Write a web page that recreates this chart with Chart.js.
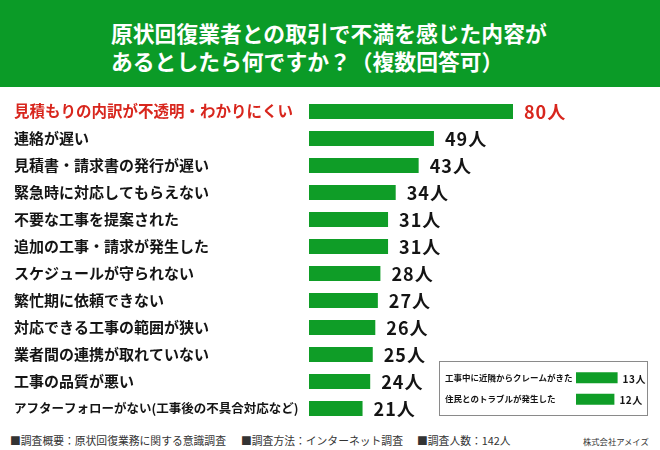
<!DOCTYPE html>
<html lang="ja">
<head>
    <meta charset="UTF-8">
    <title>原状回復業者との取引で不満を感じた内容</title>
    <script src="https://cdn.jsdelivr.net/npm/chart.js"></script>
    <style>
        html, body {
            margin: 0;
            padding: 0;
            width: 660px;
            height: 450px;
            background: #fff;
            overflow: hidden;
            font-family: 'Noto Sans CJK JP', sans-serif;
        }
        #header {
            position: absolute;
            left: 0; top: 0;
            width: 660px; height: 87px;
            background: #0b9b27;
        }
        #title {
            position: absolute;
            left: 111px; top: 19px;
            color: #fff;
            font-size: 21.8px;
            font-weight: bold;
            line-height: 28px;
            white-space: nowrap;
        }
        #mainBox {
            position: absolute;
            left: 0; top: 98px;
            width: 660px; height: 324px;
        }
        #otherFrame {
            position: absolute;
            left: 439px; top: 361px;
            width: 209px; height: 55px;
            box-sizing: border-box;
            border: 1px solid #8a8a8a;
            background: #fff;
        }
        #otherBox {
            position: absolute;
            left: 440px; top: 367px;
            width: 207px; height: 43px;
        }
        .note {
            position: absolute;
            top: 433px;
            font-size: 10.8px;
            line-height: 14px;
            color: #333;
            white-space: nowrap;
        }
        #company {
            font-size: 8.3px;
            top: 434px;
        }
    </style>
</head>
<body>
    <div id="header"></div>
    <div id="title">原状回復業者との取引で不満を感じた内容が<br>あるとしたら何ですか？（複数回答可）</div>

    <div id="mainBox"><canvas id="mainChart"></canvas></div>
    <div id="otherFrame"></div>
    <div id="otherBox"><canvas id="otherChart"></canvas></div>

    <span class="note" style="left:10px">■調査概要：原状回復業務に関する意識調査</span>
    <span class="note" style="left:241px">■調査方法：インターネット調査</span>
    <span class="note" style="left:417px">■調査人数：142人</span>
    <span class="note" id="company" style="left:583px">株式会社アメイズ</span>

    <script>
        // data
        const categories = [
            '見積もりの内訳が不透明・わかりにくい',
            '連絡が遅い',
            '見積書・請求書の発行が遅い',
            '緊急時に対応してもらえない',
            '不要な工事を提案された',
            '追加の工事・請求が発生した',
            'スケジュールが守られない',
            '繁忙期に依頼できない',
            '対応できる工事の範囲が狭い',
            '業者間の連携が取れていない',
            '工事の品質が悪い',
            'アフターフォローがない(工事後の不具合対応など)'
        ];
        const counts = [80, 49, 43, 34, 31, 31, 28, 27, 26, 25, 24, 21];

        const otherCategories = ['工事中に近隣からクレームがきた', '住民とのトラブルが発生した'];
        const otherCounts = [13, 12];

        const unit = '人';

        const GREEN = '#0f9d27';
        const RED = '#d8261d';
        const INK = '#141414';
        const FONT = "'Noto Sans CJK JP', sans-serif";

        // draws "80人" etc. after each bar
        const valueLabels = {
            id: 'valueLabels',
            afterDatasetsDraw(chart, args, opts) {
                const c = chart.ctx;
                const meta = chart.getDatasetMeta(0);
                const values = chart.data.datasets[0].data;
                c.save();
                c.font = opts.font;
                c.textBaseline = 'middle';
                c.textAlign = 'left';
                if ('letterSpacing' in c) c.letterSpacing = opts.spacing || '0px';
                meta.data.forEach((bar, i) => {
                    c.fillStyle = (opts.highlight && i === 0) ? RED : INK;
                    c.fillText(values[i] + unit, bar.x + opts.gap, bar.y + 1);
                });
                c.restore();
            }
        };

        // fixed label column, and no extra room above/below the rows
        const fitLabels = width => scale => {
            scale.width = width;
            scale.paddingTop = 0;
            scale.paddingBottom = 0;
        };

        new Chart(document.getElementById('mainChart'), {
            type: 'bar',
            data: {
                labels: categories,
                datasets: [{
                    data: counts,
                    backgroundColor: GREEN,
                    borderWidth: 0,
                    categoryPercentage: 1,
                    barPercentage: 0.56
                }]
            },
            options: {
                indexAxis: 'y',
                responsive: true,
                maintainAspectRatio: false,
                animation: false,
                layout: { padding: { left: 14, right: 96, top: 0, bottom: 0 } },
                scales: {
                    x: { display: false, min: 0, max: 100 },
                    y: {
                        grid: { display: false },
                        border: { display: false },
                        afterFit: fitLabels(295),
                        ticks: {
                            autoSkip: false,
                            crossAlign: 'far',
                            color: ctx => ctx.index === 0 ? RED : INK,
                            font: ctx => ({
                                family: FONT,
                                weight: 'bold',
                                size: ctx.index === 0 ? 15.5 : (ctx.index === categories.length - 1 ? 12.5 : 15)
                            })
                        }
                    }
                },
                plugins: {
                    legend: { display: false },
                    tooltip: { enabled: false },
                    valueLabels: { font: 'bold 18px ' + FONT, gap: 11, spacing: '1px', highlight: true }
                }
            },
            plugins: [valueLabels]
        });

        new Chart(document.getElementById('otherChart'), {
            type: 'bar',
            data: {
                labels: otherCategories,
                datasets: [{
                    data: otherCounts,
                    backgroundColor: GREEN,
                    borderWidth: 0,
                    categoryPercentage: 1,
                    barPercentage: 0.52
                }]
            },
            options: {
                indexAxis: 'y',
                responsive: true,
                maintainAspectRatio: false,
                animation: false,
                layout: { padding: { left: 5, right: 7, top: 0, bottom: 0 } },
                scales: {
                    x: { display: false, min: 0, max: 20 },
                    y: {
                        grid: { display: false },
                        border: { display: false },
                        afterFit: fitLabels(131),
                        ticks: {
                            autoSkip: false,
                            crossAlign: 'far',
                            color: INK,
                            font: { family: FONT, weight: 'bold', size: 8.5 }
                        }
                    }
                },
                plugins: {
                    legend: { display: false },
                    tooltip: { enabled: false },
                    valueLabels: { font: 'bold 10px ' + FONT, gap: 5, spacing: '0.5px', highlight: false }
                }
            },
            plugins: [valueLabels]
        });
    </script>
</body>
</html>
